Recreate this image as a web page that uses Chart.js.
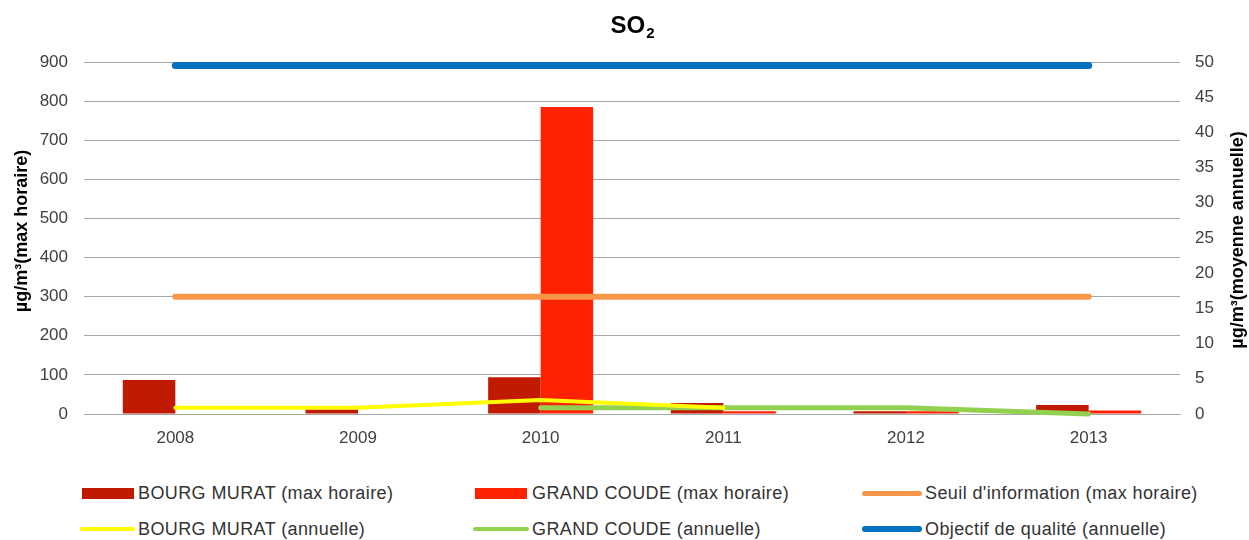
<!DOCTYPE html>
<html>
<head>
<meta charset="utf-8">
<script src="https://cdn.jsdelivr.net/npm/chart.js@4.4.0/dist/chart.umd.min.js"></script>
<style>
    body { margin: 0; background: #fff; font-family: "Liberation Sans", Arial, sans-serif; }
    #wrap { position: relative; width: 1249px; height: 540px; overflow: hidden; }
    #box { position: absolute; left: 0; top: 0; width: 1249px; height: 465px; }
    .mark { position: absolute; }
    .text { position: absolute; font-size: 18px; line-height: 20px; color: #333; white-space: nowrap; letter-spacing: 0.4px; }
</style>
</head>
<body>
<div id="wrap">
    <div id="box"><canvas id="chart1"></canvas></div>
    <div id="legend"></div>
</div>
<script>
const years = ["2008", "2009", "2010", "2011", "2012", "2013"];

const bourgMax = [87, 12, 94, 28, 7, 23];
const coudeMax = [null, null, 785, 7, 7, 9];
const seuilInfo = [300, 300, 300, 300, 300, 300];
const bourgAnnuelle = [0.9, 0.9, 2, 0.9, null, null];
const coudeAnnuelle = [null, null, 0.9, 0.9, 0.9, 0];
const objectifQualite = [49.5, 49.5, 49.5, 49.5, 49.5, 49.5];

const chartTitle = ["SO", "2"];
const leftTitle = "µg/m³(max horaire)";
const rightTitle = "µg/m³(moyenne annuelle)";

const series = [
    { label: "BOURG MURAT (max horaire)", data: bourgMax, color: "#C01A00", type: "bar", axis: "y" },
    { label: "GRAND COUDE (max horaire)", data: coudeMax, color: "#FF2200", type: "bar", axis: "y" },
    { label: "Seuil d'information (max horaire)", data: seuilInfo, color: "#F79646", type: "line", axis: "y", width: 6 },
    { label: "BOURG MURAT (annuelle)", data: bourgAnnuelle, color: "#FFFF00", type: "line", axis: "y1", width: 4 },
    { label: "GRAND COUDE (annuelle)", data: coudeAnnuelle, color: "#92D050", type: "line", axis: "y1", width: 5 },
    { label: "Objectif de qualité (annuelle)", data: objectifQualite, color: "#0070C0", type: "line", axis: "y1", width: 7 }
];

const FONT = "'Liberation Sans', Arial, sans-serif";
const gridColor = "#A8A8A8";
const tickColor = "#404040";

const titles = {
    id: "titles",
    afterDraw(chart) {
        const c = chart.ctx;
        const a = chart.chartArea;
        c.save();
        c.fillStyle = "#000";
        c.textBaseline = "alphabetic";
        c.textAlign = "left";
        c.font = "bold 24px " + FONT;
        const w1 = c.measureText(chartTitle[0]).width;
        c.font = "bold 15px " + FONT;
        const w2 = c.measureText(chartTitle[1]).width;
        const x0 = (a.left + a.right) / 2 - (w1 + w2) / 2;
        c.font = "bold 24px " + FONT;
        c.fillText(chartTitle[0], x0, 33);
        c.font = "bold 15px " + FONT;
        c.fillText(chartTitle[1], x0 + w1 + 1, 38);

        c.font = "bold 18px " + FONT;
        c.textAlign = "center";
        c.textBaseline = "middle";
        c.save();
        c.translate(22, 231);
        c.rotate(-Math.PI / 2);
        c.fillText(leftTitle, 0, 0);
        c.restore();
        c.translate(1238, 240);
        c.rotate(-Math.PI / 2);
        c.fillText(rightTitle, 0, 0);
        c.restore();
    }
};

const datasets = series.map(s => {
    if (s.type === "bar") {
        return {
            type: "bar",
            label: s.label,
            data: s.data,
            backgroundColor: s.color,
            yAxisID: s.axis,
            order: 2,
            categoryPercentage: 0.575,
            barPercentage: 1
        };
    }
    return {
        type: "line",
        label: s.label,
        data: s.data,
        borderColor: s.color,
        backgroundColor: s.color,
        borderWidth: s.width,
        borderCapStyle: "round",
        borderJoinStyle: "round",
        pointRadius: 0,
        tension: 0,
        fill: false,
        clip: false,
        yAxisID: s.axis,
        order: 1
    };
});

new Chart(document.getElementById("chart1"), {
    type: "bar",
    data: { labels: years, datasets: datasets },
    options: {
        responsive: true,
        maintainAspectRatio: false,
        animation: false,
        layout: { padding: { top: 62, left: 0, right: 0, bottom: 0 } },
        plugins: {
            legend: { display: false },
            title: { display: false },
            tooltip: { enabled: false }
        },
        scales: {
            x: {
                grid: { display: false, drawTicks: false },
                border: { display: true, color: gridColor },
                ticks: { font: { family: FONT, size: 17 }, color: tickColor, padding: 14 },
                afterFit: s => { s.height = 51; }
            },
            y: {
                position: "left",
                min: 0,
                max: 900,
                ticks: { stepSize: 100, font: { family: FONT, size: 17 }, color: tickColor, padding: 16 },
                grid: { color: gridColor, drawTicks: false },
                border: { display: false },
                afterFit: s => { s.width = 84; }
            },
            y1: {
                position: "right",
                min: 0,
                max: 50,
                ticks: { stepSize: 5, font: { family: FONT, size: 17 }, color: tickColor, padding: 15 },
                grid: { drawOnChartArea: false, drawTicks: false },
                border: { display: false },
                afterFit: s => { s.width = 69; }
            }
        }
    },
    plugins: [titles]
});

// legende en html, 2 lignes x 3 colonnes
const legend = document.getElementById("legend");
const cols = [{ mark: 82, text: 138 }, { mark: 475, text: 532 }, { mark: 864, text: 925 }];
const rows = [493, 529];
series.forEach((s, i) => {
    const col = cols[i % 3];
    const cy = rows[Math.floor(i / 3)];
    const m = document.createElement("div");
    m.className = "mark";
    m.style.background = s.color;
    if (s.type === "bar") {
        m.style.left = col.mark + "px";
        m.style.width = "52px";
        m.style.height = "11px";
        m.style.top = (cy - 5.5) + "px";
    } else {
        const h = Math.max(s.width - 1, 4);
        m.style.left = (col.mark - 2) + "px";
        m.style.width = (col.text - col.mark - 1) + "px";
        m.style.height = h + "px";
        m.style.top = (cy - h / 2) + "px";
        m.style.borderRadius = h / 2 + "px";
    }
    legend.appendChild(m);
    const t = document.createElement("div");
    t.className = "text";
    t.textContent = s.label;
    t.style.left = col.text + "px";
    t.style.top = (cy - 10) + "px";
    legend.appendChild(t);
});
</script>
</body>
</html>
